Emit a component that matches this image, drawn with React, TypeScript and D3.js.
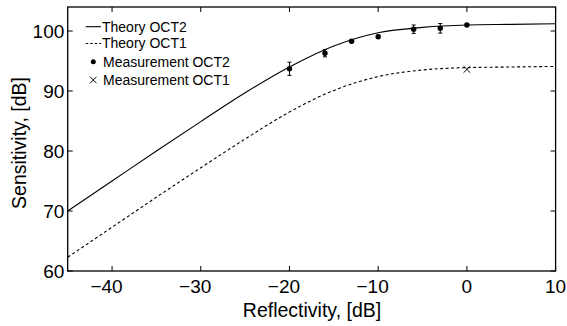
import React from "react";
import * as d3 from "d3";

const W = 567;
const H = 326;

// Theory curves (reflectivity dB -> sensitivity dB)
const theoryR = [-45, -40, -35, -30, -25, -20, -15, -10, -5, 0, 5, 10];
const theoryOCT2 = [70.0, 75.0, 80.0, 84.9, 89.7, 94.0, 97.5, 99.7, 100.6, 101.0, 101.1, 101.2];
const theoryOCT1 = [62.3, 67.3, 72.3, 77.2, 82.0, 86.5, 90.1, 92.4, 93.5, 93.9, 94.0, 94.1];

// Measurements
const measR2 = [-20, -16, -13, -10, -6, -3, 0];
const measS2 = [93.7, 96.3, 98.3, 99.05, 100.3, 100.45, 101.0];
const measErr2 = [1.1, 0.6, 0.25, 0.25, 0.7, 0.8, 0.25];
const measR1 = [0];
const measS1 = [93.6];

const xTicks = [-40, -30, -20, -10, 0, 10];
const yTicks = [60, 70, 80, 90, 100];

const legendLabels = ["Theory OCT2", "Theory OCT1", "Measurement OCT2", "Measurement OCT1"];

const FONT = "'Liberation Sans', Arial, Helvetica, sans-serif";

export default function App() {
  const left = 67.7, right = 555.6, top = 7, bottom = 271;
  const x = d3.scaleLinear().domain([-45, 10]).range([left, right]);
  const y = d3.scaleLinear().domain([60, 104]).range([bottom, top]);

  const line = d3
    .line<number>()
    .x((_, i) => x(theoryR[i]))
    .y((d) => y(d))
    .curve(d3.curveMonotoneX);

  const tickFs = 19;
  const tickLen = 5;
  const digitW = 0.556 * tickFs;

  return (
    <svg width={W} height={H} style={{ position: "absolute", left: 0, top: 0, background: "#fff" }}>
      <rect x={0} y={0} width={W} height={H} fill="#fff" />
      <g clipPath="url(#plotclip)">
        <defs>
          <clipPath id="plotclip">
            <rect x={left} y={top} width={right - left} height={bottom - top} />
          </clipPath>
        </defs>
        <path d={line(theoryOCT2) || ""} fill="none" stroke="#000" strokeWidth={1.1} />
        <path d={line(theoryOCT1) || ""} fill="none" stroke="#000" strokeWidth={1.1} strokeDasharray="3,2.5" />
      </g>

      {/* error bars + points OCT2 */}
      {measR2.map((r, i) => {
        const cx = x(r);
        const y1 = y(measS2[i] - measErr2[i]);
        const y2 = y(measS2[i] + measErr2[i]);
        return (
          <g key={"m2" + i}>
            <line x1={cx} x2={cx} y1={y1} y2={y2} stroke="#000" strokeWidth={1} />
            <line x1={cx - 2} x2={cx + 2} y1={y1} y2={y1} stroke="#000" strokeWidth={1} />
            <line x1={cx - 2} x2={cx + 2} y1={y2} y2={y2} stroke="#000" strokeWidth={1} />
            <circle cx={cx} cy={y(measS2[i])} r={2.7} fill="#000" />
          </g>
        );
      })}
      {measR1.map((r, i) => {
        const cx = x(r);
        const cy = y(measS1[i]);
        const s = 3.3;
        return (
          <g key={"m1" + i} stroke="#000" strokeWidth={1}>
            <line x1={cx - s} x2={cx + s} y1={cy - s} y2={cy + s} />
            <line x1={cx - s} x2={cx + s} y1={cy + s} y2={cy - s} />
          </g>
        );
      })}

      {/* frame */}
      <rect x={left} y={top} width={right - left} height={bottom - top} fill="none" stroke="#000" strokeWidth={1.3} />

      {/* ticks */}
      {xTicks.map((t) => (
        <g key={"xt" + t}>
          <line x1={x(t)} x2={x(t)} y1={bottom} y2={bottom - tickLen} stroke="#000" strokeWidth={1} />
          <line x1={x(t)} x2={x(t)} y1={top} y2={top + tickLen} stroke="#000" strokeWidth={1} />
          <text
            x={x(t) + (String(Math.abs(t)).length * digitW) / 2}
            y={293.3}
            fontSize={tickFs}
            fontFamily={FONT}
            textAnchor="end"
            fill="#000"
          >
            {t < 0 ? "\u2212" + Math.abs(t) : String(t)}
          </text>
        </g>
      ))}
      {yTicks.map((t) => (
        <g key={"yt" + t}>
          <line x1={left} x2={left + tickLen} y1={y(t)} y2={y(t)} stroke="#000" strokeWidth={1} />
          <line x1={right} x2={right - tickLen} y1={y(t)} y2={y(t)} stroke="#000" strokeWidth={1} />
          <text x={64.3} y={y(t) + 6.8} fontSize={tickFs} fontFamily={FONT} textAnchor="end" fill="#000">
            {t}
          </text>
        </g>
      ))}

      {/* axis titles */}
      <text x={312} y={316.7} fontSize={19.5} fontFamily={FONT} textAnchor="middle" fill="#000">
        Reflectivity, [dB]
      </text>
      <text
        transform={`translate(26,143) rotate(-90)`}
        fontSize={19.5}
        fontFamily={FONT}
        textAnchor="middle"
        fill="#000"
      >
        Sensitivity, [dB]
      </text>

      {/* legend */}
      <g fontFamily={FONT} fontSize={14} fill="#000">
        <line x1={85.7} x2={101} y1={26.7} y2={26.7} stroke="#000" strokeWidth={1.1} />
        <text x={102} y={31.6}>{legendLabels[0]}</text>
        <line x1={85.7} x2={101} y1={43.5} y2={43.5} stroke="#000" strokeWidth={1.1} strokeDasharray="2.5,2" />
        <text x={102} y={48.4}>{legendLabels[1]}</text>
        <circle cx={93.3} cy={61.7} r={2.5} fill="#000" />
        <text x={103} y={66.6}>{legendLabels[2]}</text>
        <g stroke="#000" strokeWidth={1}>
          <line x1={90} x2={96.6} y1={76.7} y2={83.3} />
          <line x1={90} x2={96.6} y1={83.3} y2={76.7} />
        </g>
        <text x={103} y={84.9}>{legendLabels[3]}</text>
      </g>
    </svg>
  );
}
